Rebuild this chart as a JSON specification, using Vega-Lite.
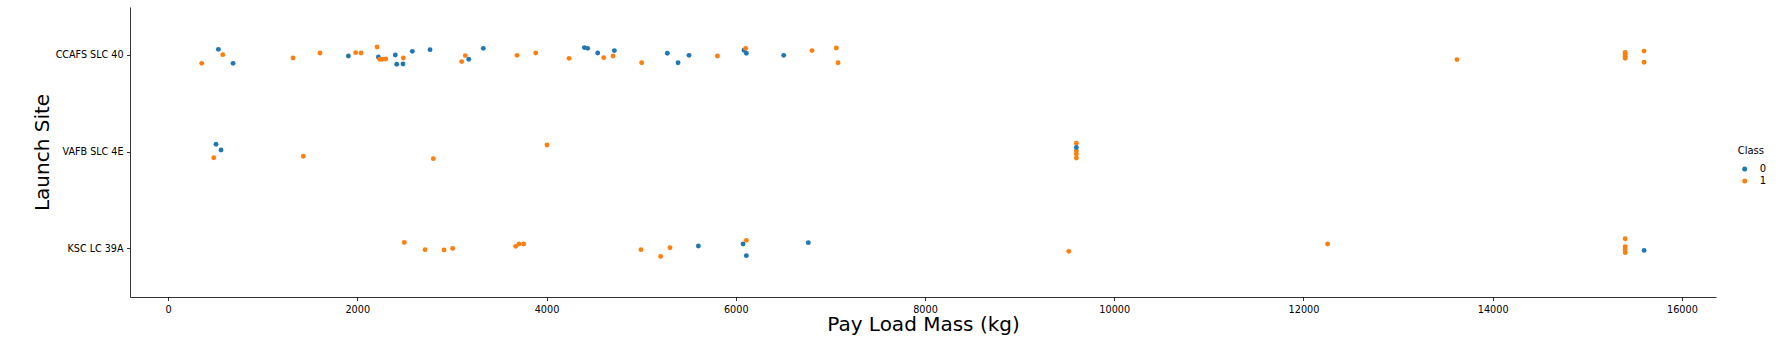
{
  "$schema": "https://vega.github.io/schema/vega-lite/v6.json",
  "width": 1586,
  "height": 290,
  "autosize": {"type": "none"},
  "padding": {"left": 130, "top": 7, "right": 68, "bottom": 55},
  "background": "white",
  "config": {
    "view": {"stroke": null},
    "font": "DejaVu Sans"
  },
  "data": {
    "values": [
      {"PayloadMass": 532, "LaunchSite": "CCAFS SLC 40", "Class": 0, "jitter": -0.062},
      {"PayloadMass": 687, "LaunchSite": "CCAFS SLC 40", "Class": 0, "jitter": 0.083},
      {"PayloadMass": 1906, "LaunchSite": "CCAFS SLC 40", "Class": 0, "jitter": 0.007},
      {"PayloadMass": 2223, "LaunchSite": "CCAFS SLC 40", "Class": 0, "jitter": 0.018},
      {"PayloadMass": 2402, "LaunchSite": "CCAFS SLC 40", "Class": 0, "jitter": -0.003},
      {"PayloadMass": 2417, "LaunchSite": "CCAFS SLC 40", "Class": 0, "jitter": 0.093},
      {"PayloadMass": 2483, "LaunchSite": "CCAFS SLC 40", "Class": 0, "jitter": 0.09},
      {"PayloadMass": 2582, "LaunchSite": "CCAFS SLC 40", "Class": 0, "jitter": -0.041},
      {"PayloadMass": 2769, "LaunchSite": "CCAFS SLC 40", "Class": 0, "jitter": -0.059},
      {"PayloadMass": 3178, "LaunchSite": "CCAFS SLC 40", "Class": 0, "jitter": 0.041},
      {"PayloadMass": 3332, "LaunchSite": "CCAFS SLC 40", "Class": 0, "jitter": -0.072},
      {"PayloadMass": 4400, "LaunchSite": "CCAFS SLC 40", "Class": 0, "jitter": -0.08},
      {"PayloadMass": 4435, "LaunchSite": "CCAFS SLC 40", "Class": 0, "jitter": -0.072},
      {"PayloadMass": 4541, "LaunchSite": "CCAFS SLC 40", "Class": 0, "jitter": -0.024},
      {"PayloadMass": 4717, "LaunchSite": "CCAFS SLC 40", "Class": 0, "jitter": -0.049},
      {"PayloadMass": 5277, "LaunchSite": "CCAFS SLC 40", "Class": 0, "jitter": -0.021},
      {"PayloadMass": 5390, "LaunchSite": "CCAFS SLC 40", "Class": 0, "jitter": 0.076},
      {"PayloadMass": 5506, "LaunchSite": "CCAFS SLC 40", "Class": 0, "jitter": 0.0},
      {"PayloadMass": 6087, "LaunchSite": "CCAFS SLC 40", "Class": 0, "jitter": -0.052},
      {"PayloadMass": 6112, "LaunchSite": "CCAFS SLC 40", "Class": 0, "jitter": -0.021},
      {"PayloadMass": 6507, "LaunchSite": "CCAFS SLC 40", "Class": 0, "jitter": 0.0},
      {"PayloadMass": 356, "LaunchSite": "CCAFS SLC 40", "Class": 1, "jitter": 0.083},
      {"PayloadMass": 578, "LaunchSite": "CCAFS SLC 40", "Class": 1, "jitter": -0.007},
      {"PayloadMass": 1321, "LaunchSite": "CCAFS SLC 40", "Class": 1, "jitter": 0.028},
      {"PayloadMass": 1606, "LaunchSite": "CCAFS SLC 40", "Class": 1, "jitter": -0.024},
      {"PayloadMass": 1983, "LaunchSite": "CCAFS SLC 40", "Class": 1, "jitter": -0.028},
      {"PayloadMass": 2040, "LaunchSite": "CCAFS SLC 40", "Class": 1, "jitter": -0.024},
      {"PayloadMass": 2209, "LaunchSite": "CCAFS SLC 40", "Class": 1, "jitter": -0.086},
      {"PayloadMass": 2237, "LaunchSite": "CCAFS SLC 40", "Class": 1, "jitter": 0.041},
      {"PayloadMass": 2264, "LaunchSite": "CCAFS SLC 40", "Class": 1, "jitter": 0.041},
      {"PayloadMass": 2300, "LaunchSite": "CCAFS SLC 40", "Class": 1, "jitter": 0.038},
      {"PayloadMass": 2487, "LaunchSite": "CCAFS SLC 40", "Class": 1, "jitter": 0.028},
      {"PayloadMass": 3104, "LaunchSite": "CCAFS SLC 40", "Class": 1, "jitter": 0.065},
      {"PayloadMass": 3142, "LaunchSite": "CCAFS SLC 40", "Class": 1, "jitter": 0.003},
      {"PayloadMass": 3688, "LaunchSite": "CCAFS SLC 40", "Class": 1, "jitter": 0.0},
      {"PayloadMass": 3886, "LaunchSite": "CCAFS SLC 40", "Class": 1, "jitter": -0.024},
      {"PayloadMass": 4238, "LaunchSite": "CCAFS SLC 40", "Class": 1, "jitter": 0.031},
      {"PayloadMass": 4605, "LaunchSite": "CCAFS SLC 40", "Class": 1, "jitter": 0.024},
      {"PayloadMass": 4703, "LaunchSite": "CCAFS SLC 40", "Class": 1, "jitter": 0.007},
      {"PayloadMass": 5006, "LaunchSite": "CCAFS SLC 40", "Class": 1, "jitter": 0.076},
      {"PayloadMass": 5806, "LaunchSite": "CCAFS SLC 40", "Class": 1, "jitter": 0.007},
      {"PayloadMass": 6105, "LaunchSite": "CCAFS SLC 40", "Class": 1, "jitter": -0.072},
      {"PayloadMass": 6806, "LaunchSite": "CCAFS SLC 40", "Class": 1, "jitter": -0.049},
      {"PayloadMass": 7063, "LaunchSite": "CCAFS SLC 40", "Class": 1, "jitter": -0.076},
      {"PayloadMass": 7081, "LaunchSite": "CCAFS SLC 40", "Class": 1, "jitter": 0.076},
      {"PayloadMass": 13622, "LaunchSite": "CCAFS SLC 40", "Class": 1, "jitter": 0.044},
      {"PayloadMass": 15400, "LaunchSite": "CCAFS SLC 40", "Class": 1, "jitter": -0.031},
      {"PayloadMass": 15400, "LaunchSite": "CCAFS SLC 40", "Class": 1, "jitter": -0.01},
      {"PayloadMass": 15400, "LaunchSite": "CCAFS SLC 40", "Class": 1, "jitter": 0.01},
      {"PayloadMass": 15400, "LaunchSite": "CCAFS SLC 40", "Class": 1, "jitter": 0.031},
      {"PayloadMass": 15600, "LaunchSite": "CCAFS SLC 40", "Class": 1, "jitter": -0.044},
      {"PayloadMass": 15600, "LaunchSite": "CCAFS SLC 40", "Class": 1, "jitter": 0.072},
      {"PayloadMass": 507, "LaunchSite": "VAFB SLC 4E", "Class": 0, "jitter": -0.08},
      {"PayloadMass": 560, "LaunchSite": "VAFB SLC 4E", "Class": 0, "jitter": -0.021},
      {"PayloadMass": 483, "LaunchSite": "VAFB SLC 4E", "Class": 1, "jitter": 0.059},
      {"PayloadMass": 1430, "LaunchSite": "VAFB SLC 4E", "Class": 1, "jitter": 0.044},
      {"PayloadMass": 2804, "LaunchSite": "VAFB SLC 4E", "Class": 1, "jitter": 0.069},
      {"PayloadMass": 4005, "LaunchSite": "VAFB SLC 4E", "Class": 1, "jitter": -0.072},
      {"PayloadMass": 9600, "LaunchSite": "VAFB SLC 4E", "Class": 1, "jitter": -0.09},
      {"PayloadMass": 9600, "LaunchSite": "VAFB SLC 4E", "Class": 1, "jitter": -0.01},
      {"PayloadMass": 9600, "LaunchSite": "VAFB SLC 4E", "Class": 1, "jitter": 0.021},
      {"PayloadMass": 9600, "LaunchSite": "VAFB SLC 4E", "Class": 1, "jitter": 0.062},
      {"PayloadMass": 9600, "LaunchSite": "VAFB SLC 4E", "Class": 0, "jitter": -0.047},
      {"PayloadMass": 2497, "LaunchSite": "KSC LC 39A", "Class": 1, "jitter": -0.065},
      {"PayloadMass": 2716, "LaunchSite": "KSC LC 39A", "Class": 1, "jitter": 0.01},
      {"PayloadMass": 2917, "LaunchSite": "KSC LC 39A", "Class": 1, "jitter": 0.013},
      {"PayloadMass": 3008, "LaunchSite": "KSC LC 39A", "Class": 1, "jitter": -0.003},
      {"PayloadMass": 3674, "LaunchSite": "KSC LC 39A", "Class": 1, "jitter": -0.024},
      {"PayloadMass": 3709, "LaunchSite": "KSC LC 39A", "Class": 1, "jitter": -0.049},
      {"PayloadMass": 3759, "LaunchSite": "KSC LC 39A", "Class": 1, "jitter": -0.049},
      {"PayloadMass": 4998, "LaunchSite": "KSC LC 39A", "Class": 1, "jitter": 0.01},
      {"PayloadMass": 5206, "LaunchSite": "KSC LC 39A", "Class": 1, "jitter": 0.08},
      {"PayloadMass": 5305, "LaunchSite": "KSC LC 39A", "Class": 1, "jitter": -0.01},
      {"PayloadMass": 5605, "LaunchSite": "KSC LC 39A", "Class": 0, "jitter": -0.028},
      {"PayloadMass": 6077, "LaunchSite": "KSC LC 39A", "Class": 0, "jitter": -0.049},
      {"PayloadMass": 6112, "LaunchSite": "KSC LC 39A", "Class": 0, "jitter": 0.072},
      {"PayloadMass": 6112, "LaunchSite": "KSC LC 39A", "Class": 1, "jitter": -0.086},
      {"PayloadMass": 6767, "LaunchSite": "KSC LC 39A", "Class": 0, "jitter": -0.062},
      {"PayloadMass": 9520, "LaunchSite": "KSC LC 39A", "Class": 1, "jitter": 0.028},
      {"PayloadMass": 12255, "LaunchSite": "KSC LC 39A", "Class": 1, "jitter": -0.049},
      {"PayloadMass": 15400, "LaunchSite": "KSC LC 39A", "Class": 1, "jitter": -0.103},
      {"PayloadMass": 15400, "LaunchSite": "KSC LC 39A", "Class": 1, "jitter": -0.021},
      {"PayloadMass": 15400, "LaunchSite": "KSC LC 39A", "Class": 1, "jitter": 0.01},
      {"PayloadMass": 15400, "LaunchSite": "KSC LC 39A", "Class": 1, "jitter": 0.041},
      {"PayloadMass": 15600, "LaunchSite": "KSC LC 39A", "Class": 0, "jitter": 0.018}
    ]
  },
  "mark": {"type": "circle", "size": 24, "opacity": 1},
  "encoding": {
    "x": {
      "field": "PayloadMass",
      "type": "quantitative",
      "scale": {"domain": [-402, 16360], "nice": false, "zero": false},
      "axis": {
        "title": "Pay Load Mass (kg)",
        "values": [0, 2000, 4000, 6000, 8000, 10000, 12000, 14000, 16000],
        "format": "d",
        "grid": false,
        "domainColor": "#000000",
        "domainWidth": 0.8,
        "tickColor": "#000000",
        "tickWidth": 0.8,
        "tickSize": 3.5,
        "labelPadding": 3.5,
        "labelFontSize": 9.7,
        "labelColor": "#000000",
        "labelFont": "DejaVu Sans",
        "titleFont": "DejaVu Sans",
        "titleFontSize": 20,
        "titleFontWeight": "normal",
        "titleColor": "#000000",
        "titlePadding": 1,
        "labelFlush": false,
        "labelOverlap": false
      }
    },
    "y": {
      "field": "LaunchSite",
      "type": "nominal",
      "sort": ["CCAFS SLC 40", "VAFB SLC 4E", "KSC LC 39A"],
      "scale": {"paddingInner": 0, "paddingOuter": 0},
      "axis": {
        "title": "Launch Site",
        "grid": false,
        "domainColor": "#000000",
        "domainWidth": 0.8,
        "tickColor": "#000000",
        "tickWidth": 0.8,
        "tickSize": 3.5,
        "labelPadding": 3.5,
        "labelFontSize": 9.6,
        "labelColor": "#000000",
        "labelFont": "DejaVu Sans",
        "titleFont": "DejaVu Sans",
        "titleFontSize": 20,
        "titleFontWeight": "normal",
        "titleColor": "#000000",
        "titlePadding": 3
      }
    },
    "yOffset": {
      "field": "jitter",
      "type": "quantitative",
      "scale": {"domain": [-0.5, 0.5]}
    },
    "color": {
      "field": "Class",
      "type": "nominal",
      "scale": {"domain": [0, 1], "range": ["#1f77b4", "#ff7f0e"]},
      "legend": {
        "title": "Class",
        "orient": "none",
        "legendX": 1607.7,
        "legendY": 139,
        "titleFont": "DejaVu Sans",
        "titleFontSize": 10,
        "titleFontWeight": "normal",
        "titleColor": "#000000",
        "titlePadding": 8,
        "labelFont": "DejaVu Sans",
        "labelFontSize": 10,
        "labelColor": "#000000",
        "symbolType": "circle",
        "symbolSize": 25,
        "symbolOffset": 2,
        "labelOffset": 10,
        "rowPadding": 2
      }
    }
  }
}
